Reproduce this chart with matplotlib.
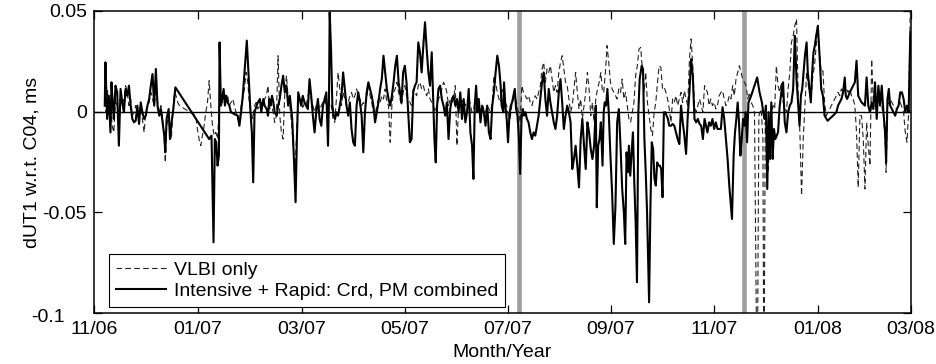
import matplotlib
matplotlib.use("Agg")
import matplotlib.pyplot as plt
import matplotlib.transforms as mtransforms

# ---------------- data (days since 2006-11-01, dUT1 in ms) ----------------
solid_days = [
    6.4, 6.8, 7.8, 8.8, 9.8, 10.4, 11.2, 11.8, 12.8, 13.8, 14.8, 15.8, 16.8, 17.8, 18.8, 19.8, 20.8, 21.8, 22.8, 23.8,
    24.8, 25.8, 26.8, 27.8, 28.8, 29.8, 30.8, 31.8, 32.8, 33.8, 34.8, 35.8, 36.8, 37.8, 38.8, 39.8, 40.8, 41.8, 42.4, 43.2,
    44.4, 45.2, 46.4, 47.2, 48.4,
    68.5, 69.9, 71.1, 71.9, 72.7, 73.5, 74.3, 74.7, 75.5, 76.3, 77.1, 77.9, 78.7, 79.5, 80.5, 81.5, 83.5, 85.5, 86.5, 87.5,
    88.5, 89.5, 90.9, 91.9, 93.1, 93.9, 94.7, 95.5, 96.7, 97.5, 98.7, 99.5, 100.7, 101.5, 102.7, 103.5, 104.3, 105.1, 105.9, 106.7,
    107.5, 108.7, 109.5, 110.5, 111.5, 112.5, 113.5, 114.5, 115.5, 116.5, 117.9, 119.1, 119.9, 120.7, 121.5,
    123.2, 124.2, 125.2, 126.2, 127.2, 128.2, 129.2, 130.2, 131.2, 132.2, 133.2, 134.2, 135.2, 136.2, 137.2, 138.2, 139.2, 139.8, 140.2, 141.0,
    141.8, 142.6, 143.4, 144.2, 145.2, 146.2, 147.2, 148.2, 149.2, 150.2, 151.2, 152.2, 153.2, 154.2, 155.2, 156.2, 157.2, 158.2, 159.2, 160.2,
    161.2, 162.2, 163.2, 164.2, 165.2, 166.2, 167.2, 168.2, 169.2, 170.2, 171.2, 172.2, 173.2, 174.2, 175.2, 176.2, 177.2, 178.2, 179.2, 180.2,
    181.2,
    182.9, 183.9, 184.9, 185.9, 186.9, 187.9, 188.9, 189.9, 190.9, 191.9, 192.9, 193.9, 194.9, 195.9, 196.9, 197.9, 198.9, 199.9, 200.9, 201.9,
    202.5, 203.3, 204.1, 204.9, 205.9, 206.9, 207.9, 208.9, 209.9, 210.9, 211.9, 212.9, 213.9, 214.9, 215.9, 216.9, 217.9, 218.9, 219.9, 220.9,
    221.9, 222.9, 223.9, 224.9, 225.7, 226.5, 227.3, 228.1, 228.9, 229.9, 230.9, 231.9, 232.9, 233.9, 234.9, 235.9, 236.9, 237.9, 238.9, 239.9,
    240.9, 241.9,
    242.5, 243.5, 243.9, 244.7, 245.5, 246.3, 247.1, 247.9, 248.7, 249.5, 250.3, 251.1, 251.9, 252.7, 253.5, 254.3, 255.1, 255.9, 256.7, 257.5,
    258.5, 259.5, 260.5, 261.5, 262.5, 263.5, 264.5, 265.5, 266.5, 267.5, 268.5, 269.5, 270.5, 271.5, 272.5, 273.5, 274.5, 275.5, 276.5, 277.5,
    278.5, 279.5, 280.5, 281.5, 282.5, 283.5, 284.5, 285.5, 286.5, 287.5, 288.5, 289.5, 290.5, 291.5, 292.5, 293.5, 294.5, 295.5, 296.5, 297.5,
    298.5, 299.1, 299.9, 300.7, 301.5, 302.5,
    303.2, 303.8, 304.6, 305.4, 306.2, 307.2, 308.2, 309.2, 310.2, 311.2, 312.2, 313.2, 314.2, 315.2, 316.0, 316.8, 317.6, 318.2, 319.0, 319.8,
    320.6, 321.4, 322.2, 323.0, 323.8, 324.6, 325.8, 326.6, 327.4, 328.2, 329.0, 329.6, 330.2, 331.0, 331.8, 332.6, 333.4, 334.2, 335.0, 335.8,
    336.6, 337.4, 338.2, 339.0, 339.8, 340.6, 341.4, 342.2, 343.2, 344.2, 345.2, 346.2, 347.2, 348.2, 349.2, 350.2, 351.2, 352.2, 353.2, 354.2,
    355.2, 356.2, 357.2, 358.2, 359.2, 360.2, 361.2, 362.2, 363.2,
    364.9, 365.9, 366.9, 367.9, 368.9, 369.9, 370.9, 372.9, 373.9, 374.9, 375.9, 376.9, 377.9, 378.9, 379.5, 380.5, 381.3, 382.1, 382.9, 383.7,
    384.5, 385.3, 386.1, 386.9, 387.7, 388.5, 389.3, 390.1, 390.9, 392.9, 394.5, 395.9, 397.3, 398.1, 398.9, 399.7, 400.5, 401.3, 402.1, 402.9,
    403.7, 404.5, 405.3, 406.1, 406.9, 407.9, 408.9, 409.9, 410.9, 411.9, 412.9, 413.9, 414.9, 415.9, 416.9, 417.9, 418.9, 419.7, 420.5, 421.3,
    422.1, 422.9, 423.9,
    424.6, 425.6, 426.4, 427.2, 428.0, 428.8, 429.6, 430.6, 431.6, 432.6, 433.6, 434.6, 436.4, 439.6, 441.6, 442.6, 443.6, 444.6, 445.6, 446.6,
    447.2, 448.0, 448.8, 449.6, 450.6, 451.6, 452.6, 453.6, 454.6, 455.6, 456.6, 457.6, 458.6, 459.6, 460.6, 461.6, 462.6, 463.6, 464.6, 465.6,
    466.6, 467.6, 468.6, 469.6, 470.6, 471.2, 472.0, 472.8, 473.6, 474.6, 475.6, 476.6, 477.6, 478.6, 479.6, 480.6, 481.6, 482.6, 483.6, 484.6,
    485.6,
]
solid_vals = [
    0.0030, 0.0245, -0.0036, 0.0079, -0.0103, 0.0146, 0.0030, -0.0036, 0.0129, 0.0096, -0.0169, 0.0113, 0.0046, -0.0003, 0.0113, 0.0079, 0.0129, 0.0030, -0.0036, -0.0053,
    -0.0045, 0.0030, -0.0061, 0.0046, -0.0003, -0.0036, -0.0020, 0.0030, 0.0063, 0.0129, 0.0187, 0.0030, 0.0212, 0.0030, -0.0020, 0.0013, -0.0053, -0.0119, -0.0202, -0.0036,
    0.0013, -0.0136, -0.0036, 0.0013, 0.0121,
    -0.0136, -0.0119, -0.0649, -0.0136, -0.0152, -0.0268, -0.0218, 0.0344, 0.0030, 0.0063, 0.0113, 0.0030, 0.0079, 0.0046, 0.0030, -0.0003, -0.0012, -0.0020, -0.0070, -0.0003,
    0.0079, 0.0195, 0.0353, 0.0195, -0.0003, -0.0103, -0.0351, -0.0003, 0.0030, 0.0046, 0.0063, -0.0003, 0.0063, 0.0030, 0.0013, -0.0020, 0.0063, 0.0030, 0.0079, 0.0046,
    -0.0003, -0.0020, 0.0030, 0.0063, 0.0129, 0.0179, 0.0096, 0.0129, 0.0030, 0.0079, -0.0036, -0.0268, -0.0450, -0.0136, 0.0096,
    0.0030, 0.0079, 0.0046, 0.0030, 0.0013, 0.0162, 0.0079, -0.0020, -0.0103, -0.0003, 0.0063, -0.0036, -0.0070, 0.0030, 0.0063, 0.0096, -0.0169, 0.0079, 0.0493, 0.0311,
    0.0030, -0.0020, -0.0036, -0.0003, -0.0020, 0.0030, 0.0079, 0.0195, 0.0113, 0.0030, -0.0020, 0.0046, -0.0086, -0.0152, -0.0169, 0.0030, 0.0096, 0.0046, -0.0020, -0.0202,
    -0.0003, 0.0096, 0.0146, 0.0113, 0.0079, 0.0030, -0.0053, -0.0003, 0.0046, 0.0113, 0.0162, 0.0278, 0.0195, 0.0113, 0.0063, 0.0030, 0.0079, 0.0146, 0.0228, 0.0278,
    0.0146,
    0.0046, 0.0195, 0.0228, 0.0146, -0.0003, -0.0152, -0.0136, 0.0096, 0.0129, 0.0146, 0.0344, 0.0295, 0.0195, 0.0328, 0.0444, 0.0311, 0.0195, 0.0129, 0.0295, 0.0030,
    -0.0136, -0.0252, 0.0030, 0.0113, 0.0129, 0.0063, 0.0030, -0.0020, 0.0046, -0.0136, 0.0013, 0.0063, 0.0079, 0.0030, 0.0063, -0.0003, 0.0096, -0.0036, 0.0063, -0.0053,
    -0.0003, 0.0113, -0.0103, -0.0169, -0.0334, 0.0030, 0.0129, -0.0003, 0.0063, -0.0053, 0.0030, -0.0003, -0.0070, 0.0030, -0.0103, -0.0136, 0.0030, 0.0096, 0.0195, 0.0278,
    0.0228, 0.0129,
    0.0030, -0.0003, 0.0146, 0.0030, -0.0036, -0.0152, -0.0020, 0.0030, 0.0046, 0.0079, 0.0113, 0.0013, -0.0020, -0.0119, -0.0309, -0.0036, 0.0013, -0.0020, -0.0003, -0.0036,
    -0.0053, -0.0103, -0.0136, -0.0103, -0.0119, -0.0070, -0.0020, 0.0063, 0.0146, 0.0195, 0.0063, -0.0020, 0.0113, 0.0046, -0.0003, -0.0053, -0.0086, -0.0020, 0.0096, 0.0162,
    0.0046, -0.0086, -0.0020, 0.0030, -0.0003, -0.0053, -0.0285, -0.0235, -0.0169, -0.0268, -0.0376, -0.0136, -0.0036, -0.0169, -0.0285, -0.0053, -0.0103, -0.0185, -0.0235, -0.0169,
    0.0030, -0.0475, -0.0169, -0.0136, -0.0053, -0.0268,
    -0.0003, 0.0046, 0.0030, 0.0113, -0.0003, -0.0218, -0.0401, -0.0657, -0.0467, -0.0053, 0.0013, -0.0169, -0.0384, -0.0500, -0.0657, -0.0202, -0.0301, -0.0169, -0.0318, -0.0202,
    -0.0103, -0.0351, -0.0549, -0.0847, -0.0003, 0.0162, 0.0228, 0.0212, -0.0136, -0.0301, -0.0500, -0.0731, -0.0947, -0.0467, -0.0152, -0.0185, -0.0334, -0.0367, -0.0252, -0.0268,
    -0.0268, -0.0285, -0.0425, -0.0003, -0.0003, -0.0020, -0.0036, -0.0070, -0.0070, -0.0061, -0.0070, -0.0103, -0.0136, -0.0161, 0.0030, -0.0053, -0.0119, -0.0210, -0.0020, 0.0096,
    0.0261, 0.0179, -0.0036, -0.0053, -0.0036, -0.0061, -0.0070, -0.0136, -0.0036,
    -0.0103, -0.0053, -0.0070, -0.0036, -0.0086, -0.0053, -0.0086, -0.0086, 0.0022, -0.0036, -0.0136, -0.0235, -0.0367, -0.0467, -0.0533, -0.0218, -0.0103, -0.0036, 0.0046, -0.0053,
    -0.0218, -0.0136, -0.0036, -0.0070, -0.0003, -0.0152, 0.0046, 0.0063, 0.0079, 0.0129, 0.0170, 0.0096, 0.0046, -0.0003, -0.0036, 0.0030, -0.0384, -0.0003, -0.0235, 0.0046,
    -0.0235, -0.0086, -0.0136, -0.0119, -0.0103, 0.0030, 0.0096, 0.0146, -0.0053, -0.0103, -0.0003, 0.0030, 0.0046, 0.0113, 0.0377, 0.0162, 0.0030, -0.0070, 0.0079, 0.0113,
    0.0195, 0.0278, 0.0344,
    0.0195, 0.0113, 0.0046, 0.0195, 0.0295, 0.0328, 0.0377, 0.0427, 0.0278, 0.0113, 0.0079, -0.0020, -0.0045, -0.0020, -0.0003, 0.0030, 0.0046, 0.0063, 0.0096, 0.0170,
    0.0079, 0.0063, 0.0079, 0.0096, 0.0113, 0.0129, 0.0146, 0.0253, 0.0079, 0.0063, 0.0046, 0.0038, 0.0030, 0.0170, 0.0030, -0.0003, 0.0046, 0.0013, 0.0146, -0.0036,
    0.0129, 0.0030, 0.0129, -0.0003, -0.0103, -0.0252, 0.0063, 0.0113, 0.0030, 0.0013, -0.0003, -0.0020, 0.0013, 0.0030, 0.0096, 0.0096, 0.0063, -0.0003, 0.0030, -0.0003,
    0.0394,
]

dashed_days = [
    6.4, 7.2, 8.0, 8.8, 9.8, 10.8, 11.8, 12.8, 13.8, 14.8, 15.8, 16.8, 17.8, 18.8, 19.8, 20.8, 21.8, 22.8, 23.8, 24.8,
    25.8, 26.8, 27.8, 28.8, 29.8, 30.8, 31.8, 32.8, 33.8, 34.8, 35.8, 36.8, 37.8, 38.8, 39.8, 40.8, 41.8, 42.4, 43.2, 44.4,
    45.2, 46.0, 46.8, 47.8, 48.8, 49.8, 50.8,
    60.5, 61.5, 62.5, 63.5, 64.5, 65.5, 66.5, 67.5, 68.5, 69.5, 70.5, 71.5, 72.5, 73.5, 74.5, 75.5, 76.5, 77.5, 78.5, 79.5,
    80.5, 81.5, 82.5, 83.5, 84.5, 85.5, 86.5, 87.5, 88.5, 89.5, 90.5, 91.5, 92.5, 93.5, 94.5, 95.5, 96.5, 97.5, 98.5, 99.5,
    100.5, 101.5, 102.5, 103.5, 104.5, 105.5, 106.5, 107.5, 108.5, 109.5, 110.5, 111.5, 112.5, 113.5, 114.5, 115.5, 116.5, 117.5, 118.5, 119.5,
    120.5, 121.5,
    123.2, 124.2, 125.2, 126.2, 127.2, 128.2, 129.2, 130.2, 131.2, 132.2, 133.2, 134.2, 135.2, 136.2, 137.2, 138.2, 139.2, 140.2, 141.2, 142.2,
    143.2, 144.2, 145.2, 146.2, 147.2, 148.2, 149.2, 150.2, 151.2, 152.2, 153.2, 154.2, 155.2, 156.2, 157.2, 158.2, 159.2, 160.2, 161.2, 162.2,
    163.2, 164.2, 165.2, 166.2, 167.2, 168.2, 169.2, 170.2, 171.2, 172.2, 173.2, 174.2, 175.2, 176.2, 177.2, 178.2, 179.2, 180.2, 181.2,
    182.9, 183.9, 184.9, 185.9, 186.9, 187.9, 188.9, 189.9, 190.9, 191.9, 192.9, 193.9, 194.9, 195.9, 196.9, 197.9, 198.9, 199.9, 200.9, 201.9,
    202.9, 203.9, 204.9, 205.9, 206.9, 207.9, 208.9, 209.9, 210.9, 211.9, 212.9, 213.9, 214.9, 215.9, 216.9, 217.9, 218.9, 219.9, 220.9, 221.9,
    222.9, 223.9, 224.9, 225.9, 226.9, 227.9, 228.9, 229.9, 230.9, 231.9, 232.9, 233.9, 234.9, 235.9, 236.9, 237.9, 238.9, 239.9, 240.9, 241.9,
    242.5, 243.5, 244.5, 245.5, 246.5, 247.5, 248.5, 249.5, 250.5, 251.5, 252.5, 253.5, 254.5, 255.5, 256.5, 257.5, 258.5, 259.5, 260.5, 261.5,
    262.5, 263.5, 264.5, 265.5, 266.5, 267.5, 268.5, 269.5, 270.5, 271.5, 272.5, 273.5, 274.5, 275.5, 276.5, 277.5, 278.5, 279.5, 280.5, 281.5,
    282.5, 283.5, 284.5, 285.5, 286.5, 287.5, 288.5, 289.5, 290.5, 291.5, 292.5, 293.5, 294.5, 295.5, 296.5, 297.5, 298.5, 299.5, 300.5, 301.5,
    302.5,
    303.2, 304.2, 305.2, 306.2, 307.2, 308.2, 309.2, 310.2, 311.2, 312.2, 313.2, 314.2, 315.2, 316.2, 317.2, 318.2, 319.2, 320.2, 321.2, 322.2,
    323.2, 324.2, 325.2, 326.2, 327.2, 328.2, 329.2, 330.2, 331.2, 332.2, 333.2, 334.2, 335.2, 336.2, 337.2, 338.2, 339.2, 340.2, 341.2, 342.2,
    343.2, 344.2, 345.2, 346.2, 347.2, 348.2, 349.2, 350.2, 351.2, 352.2, 353.2, 354.2, 355.2, 356.2, 357.2, 358.2, 359.2, 360.2, 361.2, 362.2,
    363.2,
    364.9, 365.9, 366.9, 367.9, 368.9, 369.9, 370.9, 371.9, 372.9, 373.9, 374.9, 375.9, 376.9, 377.9, 378.9, 379.9, 380.9, 381.9, 382.9, 383.9,
    384.9, 385.9, 386.9, 387.9, 388.9, 389.9, 390.9, 391.9, 392.9, 394.5, 395.5, 396.9, 397.9, 398.5, 399.3, 400.1, 400.9, 401.9, 402.9, 403.9,
    404.9, 405.9, 406.9, 407.9, 408.9, 409.9, 410.9, 411.9, 412.9, 413.9, 414.9, 415.9, 416.9, 417.9, 418.9, 419.9, 420.9, 421.9, 422.9, 423.9,
    424.6, 425.6, 426.6, 427.6, 428.6, 429.6, 430.6, 431.6, 432.6, 433.6, 434.6, 435.6, 437.6, 439.6, 441.6, 442.6, 443.6, 444.6, 445.6, 446.6,
    447.6, 448.6, 449.6, 450.6, 451.6, 452.6, 453.6, 454.6, 455.6, 456.6, 457.6, 458.6, 459.6, 460.6, 461.6, 462.6, 463.6, 464.6, 465.6, 466.6,
    467.6, 468.6, 469.6, 470.6, 471.2, 472.0, 473.6, 475.6, 477.6, 479.6, 481.6, 482.6, 483.6, 484.6, 485.6,
]
dashed_vals = [
    0.0096, -0.0003, 0.0113, -0.0020, 0.0046, -0.0070, -0.0103, 0.0063, 0.0030, -0.0020, 0.0079, 0.0030, 0.0063, 0.0129, 0.0096, 0.0030, 0.0063, -0.0020, -0.0003, 0.0030,
    -0.0020, -0.0003, 0.0030, -0.0036, -0.0103, -0.0003, 0.0030, 0.0046, 0.0096, 0.0063, 0.0030, 0.0096, 0.0046, -0.0003, 0.0030, -0.0036, -0.0136, -0.0252, -0.0070, -0.0020,
    -0.0103, -0.0136, -0.0020, 0.0096, 0.0079, 0.0046, 0.0030,
    -0.0020, -0.0086, -0.0136, -0.0169, -0.0119, -0.0070, -0.0003, 0.0046, 0.0154, 0.0030, -0.0070, -0.0119, -0.0103, -0.0136, 0.0030, 0.0079, 0.0046, 0.0096, 0.0063, 0.0079,
    0.0030, 0.0046, 0.0063, 0.0030, -0.0003, -0.0036, -0.0053, 0.0030, 0.0063, 0.0113, 0.0195, 0.0146, 0.0030, -0.0003, -0.0036, 0.0030, 0.0046, 0.0013, 0.0030, 0.0046,
    0.0030, 0.0063, 0.0079, 0.0129, 0.0013, 0.0046, -0.0003, -0.0053, -0.0020, 0.0278, -0.0020, -0.0103, -0.0136, 0.0096, 0.0179, 0.0063, 0.0030, -0.0053, -0.0169, -0.0334,
    -0.0103, 0.0063,
    0.0063, 0.0013, 0.0046, 0.0030, 0.0079, 0.0096, 0.0063, 0.0030, -0.0003, 0.0030, 0.0046, 0.0013, 0.0030, 0.0046, 0.0063, 0.0030, -0.0003, 0.0046, 0.0030, -0.0036,
    -0.0053, 0.0063, 0.0195, 0.0113, 0.0030, 0.0096, 0.0063, 0.0030, 0.0046, 0.0079, 0.0096, 0.0063, 0.0079, 0.0113, 0.0079, 0.0063, 0.0030, 0.0046, 0.0030, 0.0063,
    0.0129, 0.0079, 0.0046, -0.0003, -0.0020, 0.0030, 0.0063, 0.0046, 0.0079, 0.0063, 0.0113, 0.0046, 0.0030, -0.0152, 0.0030, 0.0096, 0.0113, 0.0146, 0.0096,
    0.0030, 0.0096, 0.0129, 0.0079, 0.0063, 0.0046, 0.0030, 0.0113, 0.0096, 0.0079, 0.0129, 0.0146, 0.0113, 0.0129, 0.0096, 0.0079, 0.0113, 0.0063, 0.0046, 0.0030,
    -0.0003, 0.0030, 0.0063, 0.0079, 0.0113, 0.0146, 0.0129, 0.0096, 0.0030, 0.0063, 0.0046, 0.0063, 0.0129, -0.0169, 0.0030, 0.0079, 0.0046, 0.0063, 0.0030, 0.0046,
    0.0079, 0.0030, -0.0003, 0.0013, 0.0063, 0.0030, 0.0046, -0.0003, 0.0030, 0.0013, -0.0003, 0.0030, 0.0013, -0.0003, 0.0046, 0.0179, 0.0146, 0.0096, 0.0063, 0.0046,
    0.0096, 0.0113, 0.0046, 0.0030, -0.0020, -0.0036, 0.0030, 0.0063, 0.0079, 0.0030, -0.0003, -0.0053, 0.0129, 0.0096, 0.0079, 0.0063, 0.0079, 0.0046, 0.0030, 0.0063,
    0.0079, 0.0063, 0.0096, 0.0129, 0.0212, 0.0245, 0.0146, 0.0212, 0.0195, 0.0228, 0.0162, 0.0096, 0.0129, 0.0096, 0.0195, 0.0245, 0.0278, 0.0212, 0.0146, 0.0129,
    0.0063, -0.0003, 0.0030, 0.0113, 0.0195, 0.0096, 0.0013, 0.0063, -0.0036, 0.0030, 0.0096, 0.0195, 0.0113, -0.0020, 0.0046, -0.0053, 0.0063, 0.0113, 0.0146, 0.0195,
    0.0096,
    0.0096, 0.0195, 0.0328, 0.0245, 0.0146, 0.0113, 0.0096, 0.0079, 0.0063, 0.0113, 0.0096, 0.0162, 0.0063, 0.0096, 0.0030, -0.0036, -0.0053, -0.0003, 0.0046, 0.0179,
    0.0228, 0.0311, 0.0319, 0.0212, 0.0096, 0.0195, 0.0046, -0.0020, -0.0086, -0.0119, -0.0003, 0.0046, 0.0146, 0.0228, 0.0220, 0.0113, 0.0121, 0.0096, 0.0063, 0.0013,
    -0.0053, 0.0063, 0.0046, 0.0079, 0.0030, 0.0063, 0.0096, 0.0046, 0.0104, 0.0063, 0.0030, 0.0261, 0.0361, 0.0228, 0.0030, -0.0003, 0.0030, 0.0063, 0.0030, -0.0003,
    0.0129,
    0.0096, 0.0030, 0.0063, 0.0030, 0.0046, 0.0013, 0.0030, 0.0079, 0.0096, 0.0104, 0.0063, 0.0030, 0.0046, 0.0079, 0.0063, 0.0129, 0.0079, 0.0162, 0.0195, 0.0228,
    0.0195, 0.0162, 0.0146, 0.0129, 0.0063, 0.0096, 0.0046, 0.0030, -0.0003, -0.1500, -0.0020, 0.0013, -0.0136, -0.1500, -0.0053, -0.0136, -0.0301, -0.0169, -0.0020, 0.0030,
    0.0013, 0.0228, 0.0129, 0.0096, 0.0146, 0.0046, 0.0030, -0.0003, 0.0113, 0.0195, 0.0344, 0.0377, 0.0427, 0.0460, 0.0079, -0.0103, -0.0417, -0.0136, 0.0030, 0.0195,
    0.0146, 0.0096, 0.0079, 0.0179, 0.0228, 0.0328, 0.0410, 0.0295, 0.0195, 0.0203, 0.0046, -0.0020, 0.0013, 0.0046, 0.0079, 0.0096, 0.0079, 0.0113, 0.0096, 0.0129,
    0.0113, 0.0096, 0.0113, 0.0079, 0.0063, 0.0030, -0.0103, -0.0376, -0.0020, -0.0020, -0.0136, -0.0384, -0.0053, -0.0169, -0.0268, 0.0261, 0.0046, 0.0030, 0.0013, 0.0096,
    0.0063, 0.0030, -0.0020, -0.0136, -0.0301, 0.0030, 0.0063, 0.0030, 0.0013, 0.0046, -0.0003, -0.0103, -0.0152, -0.0003, 0.0526,
]

tick_days = [0, 61.9, 123.7, 185.0, 246.3, 307.6, 368.8, 430.7, 486]
tick_labels = ['11/06', '01/07', '03/07', '05/07', '07/07', '09/07', '11/07', '01/08', '03/08']
y_ticks = [-0.1, -0.05, 0, 0.05]
y_tick_labels = ['-0.1', '-0.05', '0', '0.05']
event_days = [252.8, 386.7]

assert len(solid_days) == len(solid_vals), (len(solid_days), len(solid_vals))
assert len(dashed_days) == len(dashed_vals), (len(dashed_days), len(dashed_vals))

# ---------------- figure ----------------
plt.rcParams['font.family'] = ['Liberation Sans', 'DejaVu Sans']
plt.rcParams['font.size'] = 14

fig = plt.figure(figsize=(9.36, 3.64), dpi=100)
ax = fig.add_axes([94 / 936, 51 / 364, 817 / 936, 302 / 364])

for d in event_days:
    ax.axvline(d, color='#a0a0a0', lw=3.3, zorder=1)
ax.axhline(0, color='black', lw=1.0, zorder=2)

ax.plot(dashed_days, dashed_vals, color='#222222', lw=0.8, linestyle=(0, (5, 3)),
        label='VLBI only', zorder=3)
ax.plot(solid_days, solid_vals, color='black', lw=1.5, label='Intensive + Rapid: Crd, PM combined',
        zorder=4)

ax.set_xlim(tick_days[0], tick_days[-1])
ax.set_ylim(-0.1, 0.05)
ax.set_xticks(tick_days)
ax.set_xticklabels(tick_labels)
ax.set_yticks(y_ticks)
ax.set_yticklabels(y_tick_labels)
ax.tick_params(direction='in', top=True, right=True, length=5.5, width=0.9)
ax.tick_params(axis='x', pad=6)
ax.tick_params(axis='y', pad=5)
for s in ax.spines.values():
    s.set_linewidth(1.1)

# bottom y label sits left of the first date label, as in the reference
lbl = ax.get_yticklabels()[0]
lbl.set_transform(lbl.get_transform() +
                  mtransforms.ScaledTranslation(-0.22, -0.03, fig.dpi_scale_trans))

ax.set_xlabel('Month/Year', labelpad=4)
ax.set_ylabel('dUT1 w.r.t. C04, ms')
ax.yaxis.set_label_coords(-0.065, 0.5)

leg = ax.legend(loc='lower left', bbox_to_anchor=(0.018, 0.02), borderaxespad=0,
                fancybox=False, framealpha=1, edgecolor='black', handlelength=2.6,
                handletextpad=0.4, labelspacing=0.2, borderpad=0.35)
leg.get_frame().set_linewidth(0.8)

fig.savefig('out.png', dpi=100)
